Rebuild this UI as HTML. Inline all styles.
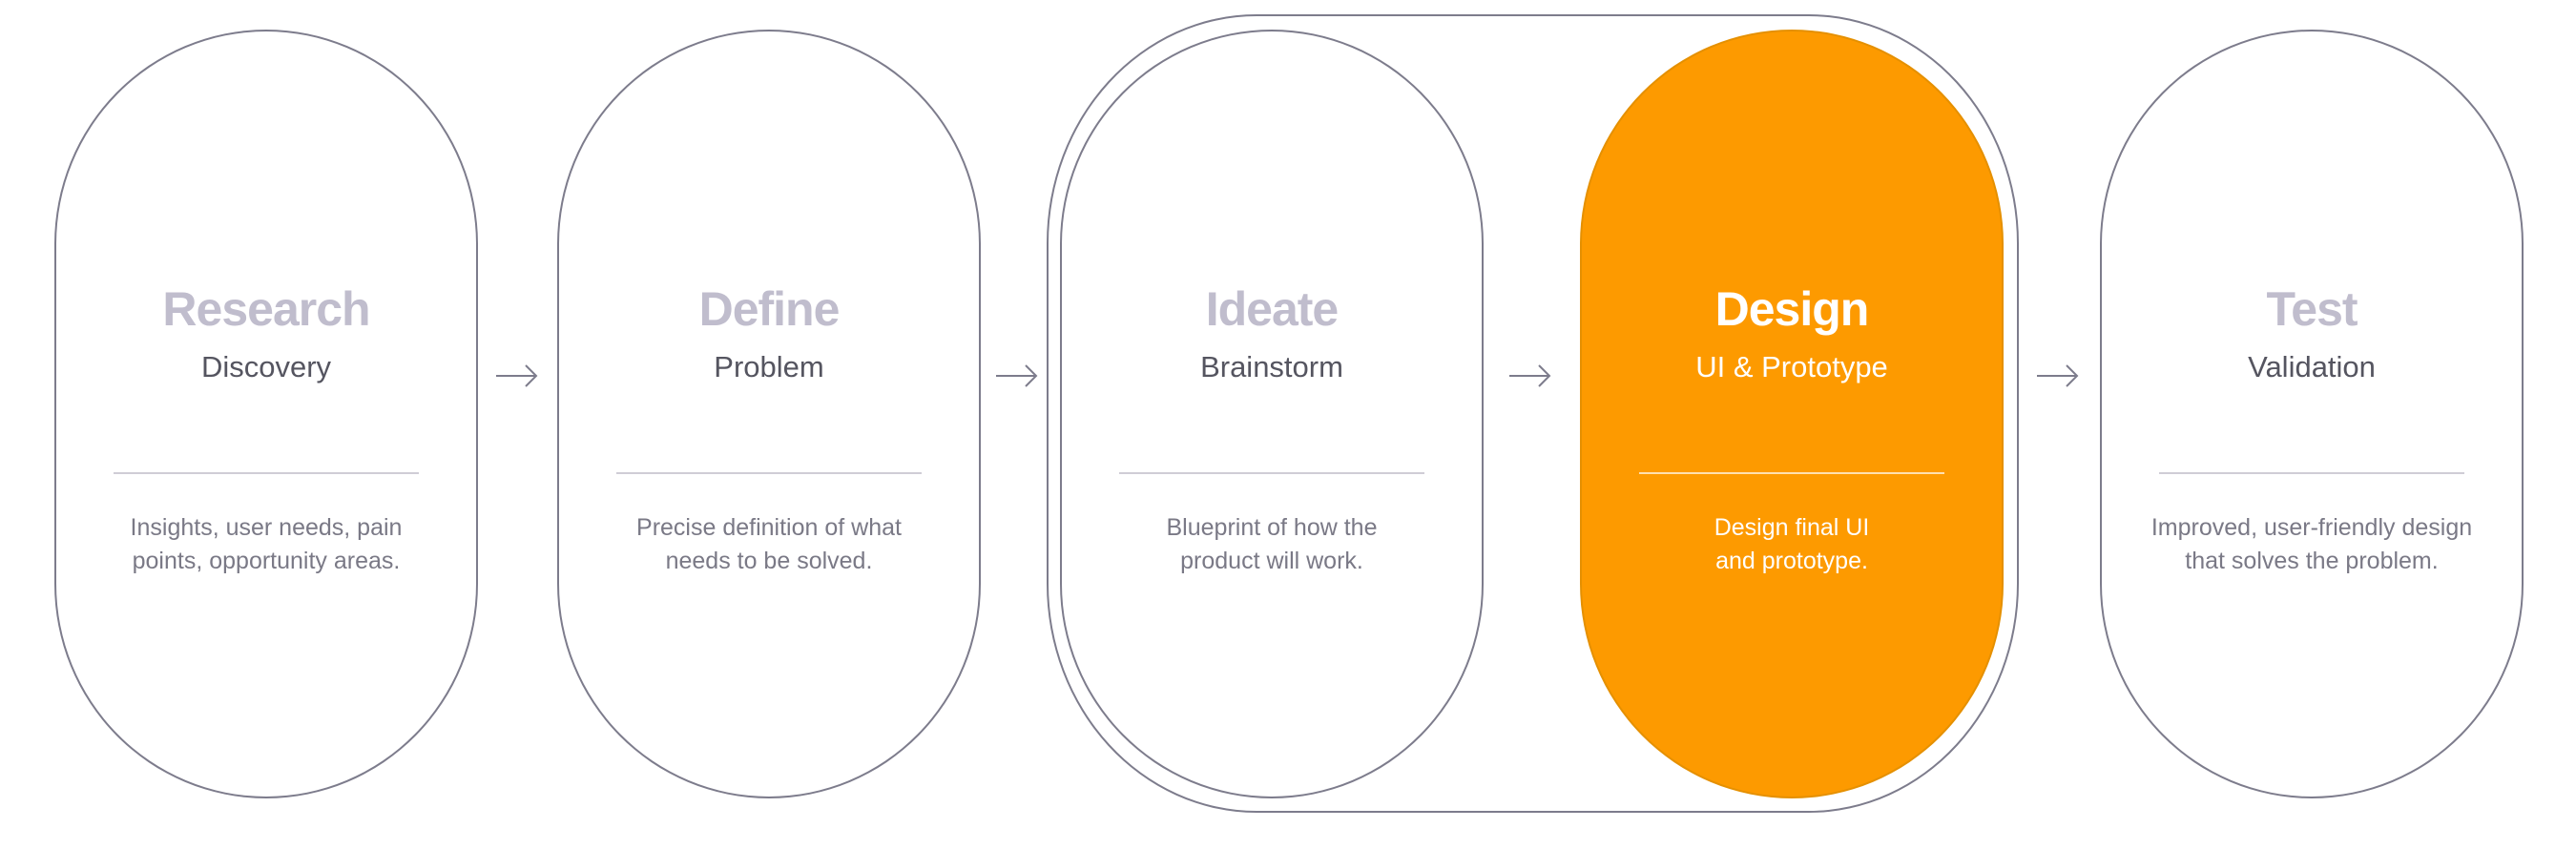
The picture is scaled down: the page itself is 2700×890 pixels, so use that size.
<!DOCTYPE html>
<html><head><meta charset="utf-8"><style>
body{margin:0;width:2700px;height:890px;background:#fff;position:relative;overflow:hidden;font-family:"Liberation Sans",sans-serif}
.p{position:absolute;top:31px;width:444px;height:806px;box-sizing:border-box;border:2px solid #7d7c8c;border-radius:222px/225px;background:#fff}
.o{position:absolute;left:1097px;top:15px;width:1019px;height:837px;box-sizing:border-box;border:2px solid #7d7c8c;border-radius:220px/240px}
.t{position:absolute;left:0;right:0;text-align:center}
.h{top:262px;font-size:50px;font-weight:bold;color:#c0bdcd;letter-spacing:-1px}
.s{top:334px;font-size:31px;color:#555560}
.d{top:503px;font-size:25px;line-height:35px;color:#7a7986}
.l{position:absolute;left:60px;right:60px;top:462px;border-top:2px solid #cfcdd6}
.or{background:#fd9a00;border-color:#e59000}
.or .h,.or .s,.or .d{color:#fff}
.or .l{border-color:#ffe0b0}
.a{position:absolute;top:382px;width:44px;height:24px}
</style></head><body>
<div class="o"></div>
<div class="p" style="left:57px"><div class="t h">Research</div><div class="t s">Discovery</div><div class="l"></div><div class="t d">Insights, user needs, pain<br>points, opportunity areas.</div></div>
<div class="p" style="left:584px"><div class="t h">Define</div><div class="t s">Problem</div><div class="l"></div><div class="t d">Precise definition of what<br>needs to be solved.</div></div>
<div class="p" style="left:1111px"><div class="t h">Ideate</div><div class="t s">Brainstorm</div><div class="l"></div><div class="t d">Blueprint of how the<br>product will work.</div></div>
<div class="p or" style="left:1656px"><div class="t h">Design</div><div class="t s">UI &amp; Prototype</div><div class="l"></div><div class="t d">Design final UI<br>and prototype.</div></div>
<div class="p" style="left:2201px"><div class="t h">Test</div><div class="t s">Validation</div><div class="l"></div><div class="t d">Improved, user-friendly design<br>that solves the problem.</div></div>
<svg class="a" style="left:520px" viewBox="0 0 44 24"><path d="M0 12H42M31 1L42 12L31 23" fill="none" stroke="#7d7c8c" stroke-width="2"/></svg>
<svg class="a" style="left:1044px" viewBox="0 0 44 24"><path d="M0 12H42M31 1L42 12L31 23" fill="none" stroke="#7d7c8c" stroke-width="2"/></svg>
<svg class="a" style="left:1582px" viewBox="0 0 44 24"><path d="M0 12H42M31 1L42 12L31 23" fill="none" stroke="#7d7c8c" stroke-width="2"/></svg>
<svg class="a" style="left:2135px" viewBox="0 0 44 24"><path d="M0 12H42M31 1L42 12L31 23" fill="none" stroke="#7d7c8c" stroke-width="2"/></svg>
</body></html>
